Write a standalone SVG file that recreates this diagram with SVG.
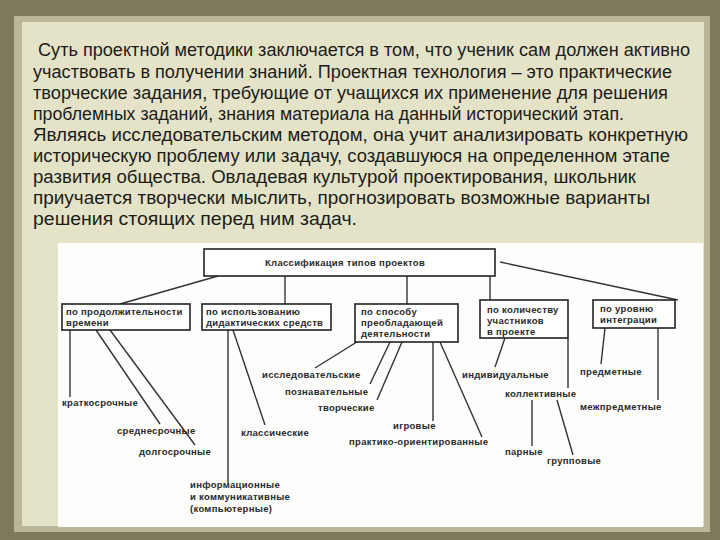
<svg xmlns="http://www.w3.org/2000/svg" width="720" height="540" viewBox="0 0 720 540">
<style>
.p{font-family:"Liberation Sans",Arial,sans-serif;font-size:17.5px;fill:#1c1c18}
.t{font-family:"Liberation Sans",Arial,sans-serif;font-size:9.5px;font-weight:bold;fill:#2a2a2a;letter-spacing:0.3px}
.b{fill:#fff;stroke:#222;stroke-width:1.6}
#connectors line{stroke:#333;stroke-width:1.4}
</style>
<rect width="720" height="540" fill="#7d7a5c"/>
<rect x="14" y="16" width="696" height="516" fill="#b9b69a"/>
<rect x="22" y="22" width="682" height="504" fill="#e4e3c8"/>
<g id="paragraph">
<text class="p" x="38" y="56" textLength="652" lengthAdjust="spacingAndGlyphs">Суть проектной методики заключается в том, что ученик сам должен активно</text>
<text class="p" x="33" y="78" textLength="639" lengthAdjust="spacingAndGlyphs">участвовать  в получении знаний. Проектная технология – это практические</text>
<text class="p" x="33" y="99" textLength="635" lengthAdjust="spacingAndGlyphs">творческие задания, требующие от учащихся их применение для решения</text>
<text class="p" x="33" y="120" textLength="591" lengthAdjust="spacingAndGlyphs">проблемных заданий, знания материала на данный исторический этап.</text>
<text class="p" x="33" y="141" textLength="655" lengthAdjust="spacingAndGlyphs">Являясь исследовательским методом,  она учит анализировать конкретную</text>
<text class="p" x="33" y="162" textLength="637" lengthAdjust="spacingAndGlyphs">историческую проблему или задачу, создавшуюся  на определенном этапе</text>
<text class="p" x="33" y="183" textLength="603" lengthAdjust="spacingAndGlyphs">развития общества. Овладевая культурой проектирования, школьник</text>
<text class="p" x="33" y="204" textLength="617" lengthAdjust="spacingAndGlyphs">приучается творчески мыслить, прогнозировать возможные варианты</text>
<text class="p" x="33" y="225" textLength="324" lengthAdjust="spacingAndGlyphs">решения стоящих перед ним задач.</text>
</g>
<rect x="58" y="243" width="645" height="284" fill="#fdfdfb"/>
<g id="connectors">
<line x1="218" y1="276" x2="120" y2="304"/>
<line x1="285" y1="276" x2="285" y2="304"/>
<line x1="407" y1="276" x2="407" y2="304"/>
<line x1="490" y1="276" x2="490" y2="300"/>
<line x1="500" y1="262" x2="678" y2="300"/>
<line x1="70" y1="330" x2="70" y2="397"/>
<line x1="96" y1="330" x2="160" y2="424"/>
<line x1="110" y1="330" x2="195" y2="445"/>
<line x1="228" y1="330" x2="228" y2="483"/>
<line x1="233" y1="330" x2="265" y2="425"/>
<line x1="360" y1="340" x2="315" y2="368"/>
<line x1="390" y1="342" x2="370" y2="384"/>
<line x1="402" y1="342" x2="377" y2="400"/>
<line x1="433" y1="342" x2="433" y2="421"/>
<line x1="440" y1="342" x2="482" y2="437"/>
<line x1="505" y1="338" x2="495" y2="367"/>
<line x1="568" y1="338" x2="568" y2="388"/>
<line x1="532" y1="400" x2="532" y2="446"/>
<line x1="557" y1="400" x2="573" y2="455"/>
<line x1="605" y1="328" x2="601" y2="364"/>
<line x1="658" y1="328" x2="658" y2="400"/>
</g>
<g id="root"><rect class="b" x="204" y="249" width="291" height="27"/><text class="t" x="265" y="266">Классификация типов проектов</text></g>
<g id="n1"><rect class="b" x="62" y="304" width="128" height="26"/><text class="t" x="66" y="315">по продолжительности</text><text class="t" x="66" y="326">времени</text></g>
<g id="n2"><rect class="b" x="202" y="304" width="129" height="26"/><text class="t" x="206" y="315">по использованию</text><text class="t" x="206" y="326">дидактических средств</text></g>
<g id="n3"><rect class="b" x="355" y="304" width="103" height="38"/><text class="t" x="361" y="315">по способу</text><text class="t" x="361" y="326">преобладающей</text><text class="t" x="361" y="337">деятельности</text></g>
<g id="n4"><rect class="b" x="480" y="300" width="88" height="38"/><text class="t" x="487" y="313">по количеству</text><text class="t" x="487" y="324">участников</text><text class="t" x="487" y="335">в проекте</text></g>
<g id="n5"><rect class="b" x="593" y="300" width="82" height="28"/><text class="t" x="600" y="312">по уровню</text><text class="t" x="600" y="323">интеграции</text></g>
<g id="leaves">
<text class="t" x="62" y="406">краткосрочные</text>
<text class="t" x="117" y="434">среднесрочные</text>
<text class="t" x="139" y="455">долгосрочные</text>
<text class="t" x="190" y="488">информационные</text>
<text class="t" x="190" y="500">и коммуникативные</text>
<text class="t" x="190" y="512">(компьютерные)</text>
<text class="t" x="241" y="436">классические</text>
<text class="t" x="262" y="378">исследовательские</text>
<text class="t" x="285" y="395">познавательные</text>
<text class="t" x="318" y="411">творческие</text>
<text class="t" x="393" y="429">игровые</text>
<text class="t" x="349" y="445">практико-ориентированные</text>
<text class="t" x="462" y="378">индивидуальные</text>
<text class="t" x="505" y="397">коллективные</text>
<text class="t" x="505" y="455">парные</text>
<text class="t" x="547" y="464">групповые</text>
<text class="t" x="580" y="375">предметные</text>
<text class="t" x="580" y="410">межпредметные</text>
</g>
</svg>
